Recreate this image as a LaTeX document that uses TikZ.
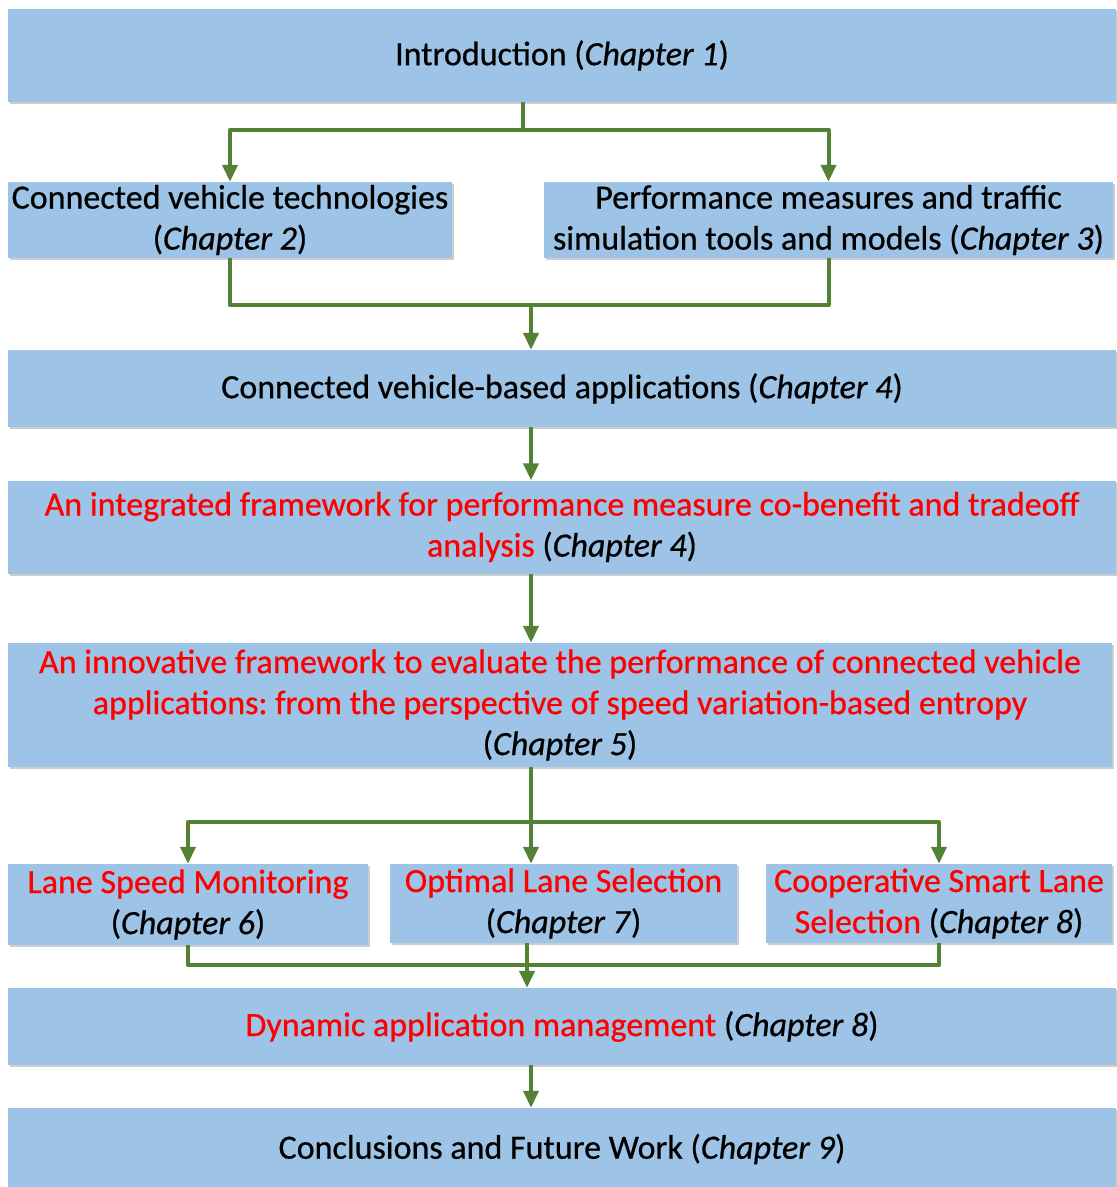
\documentclass[tikz,border=0pt]{standalone}
\usepackage{fontspec}
\setmainfont{Carlito}[FakeBold=0.6, ItalicFeatures={FakeBold=0.6}]
\frenchspacing
\usetikzlibrary{arrows.meta,shadows}
\definecolor{boxfill}{HTML}{9DC3E6}
\definecolor{flowgreen}{HTML}{548235}
\definecolor{hl}{HTML}{FF0000}
\newcommand{\chap}[1]{(\textit{Chapter #1})}
\newcommand{\hot}[1]{\textcolor{hl}{#1}}
\begin{document}
\begin{tikzpicture}[x=1pt,y=-1pt,
  box/.style={fill=boxfill, inner sep=0pt, align=center,
    font=\fontsize{34}{41}\selectfont,
    drop shadow={shadow xshift=1.5pt, shadow yshift=-2pt, fill=black!28, opacity=0.7}},
  flow/.style={draw=flowgreen, line width=4pt, line join=round},
  arr/.style={flow, -{Triangle[width=15pt,length=17pt]}}]
\useasboundingbox (0,0) rectangle (1117,1187);

% chapter boxes
\node[box, minimum width=1108pt, minimum height=93pt] (intro) at (562,55.5)
  {Introduction \chap{1}};
\node[box, minimum width=444pt, minimum height=76pt] (cvt) at (230,220)
  {Connected vehicle technologies\\\chap{2}};
\node[box, minimum width=569pt, minimum height=76pt] (pm) at (828.5,220)
  {Performance measures and traffic\\simulation tools and models \chap{3}};
\node[box, minimum width=1108pt, minimum height=77pt] (cva) at (562,388.5)
  {Connected vehicle-based applications \chap{4}};
\node[box, minimum width=1108pt, minimum height=93pt] (ifw) at (562,527)
  {\hot{An integrated framework for performance measure co-benefit and tradeoff}\\\hot{analysis} \chap{4}};
\node[box, minimum width=1104pt, minimum height=124pt] (inn) at (560,705)
  {\hot{An innovative framework to evaluate the performance of connected vehicle}\\\hot{applications: from the perspective of speed variation-based entropy}\\\chap{5}};
\node[box, minimum width=360pt, minimum height=81pt] (lsm) at (188,904.5)
  {\hot{Lane Speed Monitoring}\\\chap{6}};
\node[box, minimum width=347pt, minimum height=79pt] (ols) at (563.5,903.5)
  {\hot{Optimal Lane Selection}\\\chap{7}};
\node[box, minimum width=346pt, minimum height=79pt] (csl) at (939,903.5)
  {\hot{Cooperative Smart Lane}\\\hot{Selection} \chap{8}};
\node[box, minimum width=1108pt, minimum height=77pt] (dam) at (562,1026.5)
  {\hot{Dynamic application management} \chap{8}};
\node[box, minimum width=1108pt, minimum height=82pt] (con) at (562,1149)
  {Conclusions and Future Work \chap{9}};

% junction points of the flow lines
\coordinate (s1) at (523,130);
\coordinate (m1) at (531,305);
\coordinate (m2) at (531,822);
\coordinate (m3) at (527,965);
\coordinate (lane) at (531,0);

% connectors
\draw[flow] (intro.south -| s1) -- (s1);
\draw[arr] (s1) -| (cvt.north);
\draw[arr] (s1) -| (pm.north);

\draw[flow] (cvt.south) |- (m1) -| (pm.south);
\draw[arr] (m1) -- (cva.north -| m1);

\draw[arr] (cva.south -| lane) -- (ifw.north -| lane);
\draw[arr] (ifw.south -| lane) -- (inn.north -| lane);

\draw[flow] (inn.south -| m2) -- (m2);
\draw[arr] (m2) -| (lsm.north);
\draw[arr] (m2) -| (csl.north);
\draw[arr] (m2) -- (ols.north -| m2);

\draw[flow] (lsm.south) |- (m3) -| (csl.south);
\draw[arr] (ols.south -| m3) -- (dam.north -| m3);

\draw[arr] (dam.south -| lane) -- (con.north -| lane);
\end{tikzpicture}
\end{document}
